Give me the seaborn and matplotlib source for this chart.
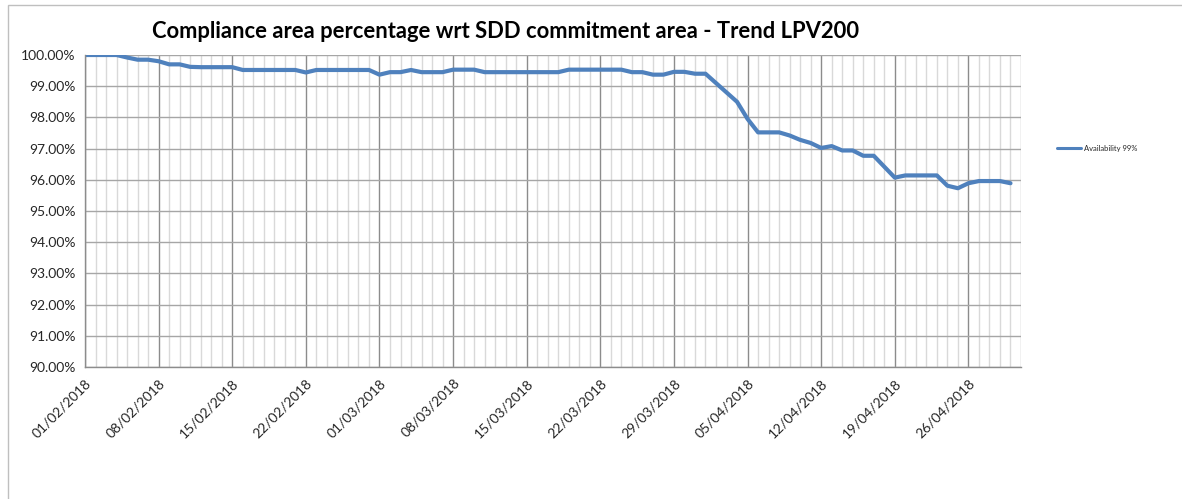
import numpy as np
import pandas as pd
import matplotlib
matplotlib.use("Agg")
import matplotlib.pyplot as plt
import matplotlib.dates as mdates
from matplotlib.ticker import FuncFormatter, MultipleLocator, FixedLocator
from matplotlib.patches import Rectangle
import seaborn as sns

# ============================
# DATA
# ============================
dates = pd.date_range("2018-02-01", "2018-04-30", freq="D")
availability = [
    100.00, 100.00, 100.00, 100.00, 99.92, 99.85, 99.85, 99.80, 99.70, 99.70,   # 01/02 - 10/02
    99.62, 99.61, 99.61, 99.61, 99.61, 99.52, 99.52, 99.52, 99.52, 99.52,      # 11/02 - 20/02
    99.52, 99.44, 99.52, 99.52, 99.52, 99.52, 99.52, 99.52, 99.37, 99.45,      # 21/02 - 02/03
    99.45, 99.52, 99.45, 99.45, 99.45, 99.53, 99.53, 99.53, 99.45, 99.45,      # 03/03 - 12/03
    99.45, 99.45, 99.45, 99.45, 99.45, 99.45, 99.53, 99.53, 99.53, 99.53,      # 13/03 - 22/03
    99.53, 99.53, 99.45, 99.45, 99.37, 99.37, 99.46, 99.46, 99.40, 99.40,      # 23/03 - 01/04
    99.10, 98.80, 98.50, 97.95, 97.52, 97.52, 97.52, 97.42, 97.28, 97.18,      # 02/04 - 11/04
    97.02, 97.08, 96.94, 96.94, 96.77, 96.77, 96.42, 96.07, 96.14, 96.14,      # 12/04 - 21/04
    96.14, 96.14, 95.81, 95.73, 95.89, 95.96, 95.96, 95.96, 95.89,             # 22/04 - 30/04
]
series_name = "Availability 99%"
title = "Compliance area percentage wrt SDD commitment area - Trend LPV200"

df = pd.DataFrame({"date": dates, "value": availability, "series": series_name})

major_dates = pd.date_range("2018-02-01", "2018-04-26", freq="7D")
x_start = pd.Timestamp("2018-02-01")
x_end = pd.Timestamp("2018-05-01")

# ============================
# PLOT
# ============================
sns.set_style("white")
plt.rcParams["font.family"] = ["Lato", "DejaVu Sans"]

fig = plt.figure(figsize=(11.82, 4.99), dpi=100)
ax = fig.add_axes([85 / 1182, 1 - 367 / 499, (1021 - 85) / 1182, (367 - 55) / 499])

sns.lineplot(data=df, x="date", y="value", hue="series", palette=["#4f81bd"],
             linewidth=3.0, ax=ax, legend=False)

ax.set_xlim(x_start, x_end)
ax.set_ylim(90, 100)

ax.xaxis.set_major_locator(FixedLocator(mdates.date2num(major_dates)))
ax.xaxis.set_minor_locator(mdates.DayLocator())
ax.xaxis.set_major_formatter(mdates.DateFormatter("%d/%m/%Y"))
ax.yaxis.set_major_locator(MultipleLocator(1))
ax.yaxis.set_major_formatter(FuncFormatter(lambda v, _: f"{v:.2f}%"))

ax.grid(which="minor", axis="x", color="#d9d9d9", linewidth=1.0)
ax.grid(which="major", axis="x", color="#8c8c8c", linewidth=1.0)
ax.grid(which="major", axis="y", color="#a6a6a6", linewidth=1.0)
ax.set_axisbelow(True)

for side in ["top", "right"]:
    ax.spines[side].set_visible(False)
for side in ["left", "bottom"]:
    ax.spines[side].set_color("#8c8c8c")
    ax.spines[side].set_linewidth(1.0)
ax.axvline(x_end, color="#d9d9d9", linewidth=1.0, zorder=0)

ax.tick_params(axis="x", which="major", direction="out", length=5, color="#8c8c8c",
               labelsize=10, labelcolor="#262626", pad=2)
ax.tick_params(axis="x", which="minor", length=0)
ax.tick_params(axis="y", which="major", direction="out", length=4, color="#8c8c8c",
               labelsize=10, labelcolor="#262626", pad=3)
plt.setp(ax.get_xticklabels(), rotation=45, ha="right", rotation_mode="anchor")

ax.set_xlabel("")
ax.set_ylabel("")

fig.text(506 / 1182, 1 - 31 / 499, title, ha="center", va="center",
         fontsize=15.8, fontweight="bold", color="#000000")

# legend on the right
handle = plt.Line2D([], [], color="#4f81bd", linewidth=2.2)
fig.legend([handle], [series_name], loc="center left",
           bbox_to_anchor=(1050 / 1182, 1 - 148 / 499), frameon=False,
           fontsize=5.5, handlelength=3.2, handletextpad=0.3)

# chart frame
fig.patches.append(Rectangle((8 / 1182, -0.01), 1.2, 1 - 5 / 499 + 0.01,
                             transform=fig.transFigure, fill=False,
                             edgecolor="#bfbfbf", linewidth=1.0))

fig.savefig("out.png", dpi=100)
